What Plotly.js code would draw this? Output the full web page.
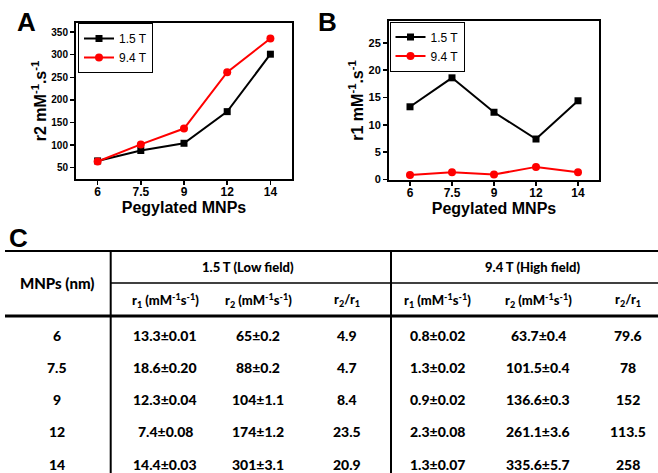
<!DOCTYPE html>
<html>
<head>
<meta charset="utf-8">
<script src="https://cdn.plot.ly/plotly-3.0.1.min.js"></script>
<style>html,body{margin:0;padding:0;background:#fff;}#chart{width:658px;height:473px;}</style>
</head>
<body>
<div id="chart"></div>
<script>
// ---- data ----
const sizes = ["6", "7.5", "9", "12", "14"];
const r1_low = [13.3, 18.6, 12.3, 7.4, 14.4];
const r1_low_err = ["0.01", "0.20", "0.04", "0.08", "0.03"];
const r2_low = [65, 88, 104, 174, 301];
const r2_low_err = ["0.2", "0.2", "1.1", "1.2", "3.1"];
const ratio_low = [4.9, 4.7, 8.4, 23.5, 20.9];
const r1_high = [0.8, 1.3, 0.9, 2.3, 1.3];
const r1_high_err = ["0.02", "0.02", "0.02", "0.08", "0.07"];
const r2_high = [63.7, 101.5, 136.6, 261.1, 335.6];
const r2_high_err = ["0.4", "0.4", "0.3", "3.6", "5.7"];
const ratio_high = [79.6, 78, 152, 113.5, 258];
const yTicksA = [50, 100, 150, 200, 250, 300, 350];
const yTicksB = [0, 5, 10, 15, 20, 25];
const seriesNames = ["1.5 T", "9.4 T"];

// ---- helpers (pixel -> paper) ----
const W = 658, H = 473;
const px = x => x / W;
const py = y => 1 - y / H;

const F = "Liberation Sans, Arial, sans-serif";
const TF = "Lato, Liberation Sans, sans-serif";

const lineBlack = {color: "#000000", width: 2};
const lineRed = {color: "#ff0000", width: 2};
const mkBlack = {symbol: "square", size: 7, color: "#000000"};
const mkRed = {symbol: "circle", size: 8, color: "#ff0000"};

const traces = [
  {x: sizes, y: r2_low, type: "scatter", mode: "lines+markers", name: seriesNames[0],
   line: lineBlack, marker: mkBlack, xaxis: "x", yaxis: "y", legend: "legend"},
  {x: sizes, y: r2_high, type: "scatter", mode: "lines+markers", name: seriesNames[1],
   line: lineRed, marker: mkRed, xaxis: "x", yaxis: "y", legend: "legend"},
  {x: sizes, y: r1_low, type: "scatter", mode: "lines+markers", name: seriesNames[0],
   line: lineBlack, marker: mkBlack, xaxis: "x2", yaxis: "y2", legend: "legend2"},
  {x: sizes, y: r1_high, type: "scatter", mode: "lines+markers", name: seriesNames[1],
   line: lineRed, marker: mkRed, xaxis: "x2", yaxis: "y2", legend: "legend2"}
];

function xax(domain, anchor) {
  return {
    domain: domain, anchor: anchor, type: "category", range: [-0.5, 4.5],
    showline: true, mirror: true, linecolor: "#000", linewidth: 2,
    ticks: "outside", ticklen: 4, tickwidth: 1.5, tickcolor: "#000",
    ticklabelstandoff: -3,
    showgrid: false, zeroline: false,
    tickfont: {family: F, size: 12, color: "#000", weight: "bold"},
    title: {text: "Pegylated MNPs", font: {family: F, size: 16, color: "#000", weight: "bold"}, standoff: 0}
  };
}
function yax(domain, anchor, range, ticks, title, fs) {
  return {
    domain: domain, anchor: anchor, range: range, tickmode: "array", tickvals: ticks,
    showline: true, mirror: true, linecolor: "#000", linewidth: 2,
    ticks: "outside", ticklen: 4, tickwidth: 1.5, tickcolor: "#000",
    showgrid: false, zeroline: false,
    tickfont: {family: F, size: fs, color: "#000", weight: "bold"},
    title: {text: title, font: {family: F, size: 16, color: "#000", weight: "bold"}, standoff: 1}
  };
}

const shapes = [];
const annotations = [];
function hline(y, x0, x1, w) {
  shapes.push({type: "line", xref: "paper", yref: "paper", x0: px(x0), x1: px(x1), y0: py(y), y1: py(y),
    line: {color: "#000", width: w}});
}
function vline(x, y0, y1, w) {
  shapes.push({type: "line", xref: "paper", yref: "paper", x0: px(x), x1: px(x), y0: py(y0), y1: py(y1),
    line: {color: "#000", width: w}});
}
function txt(text, x, y, size, family) {
  annotations.push({text: text, xref: "paper", yref: "paper", x: px(x), y: py(y),
    xanchor: "center", yanchor: "middle", showarrow: false,
    font: {family: family || TF, size: size, color: "#000", weight: 900}});
}

// panel letters
txt("A", 26, 22, 26, F);
txt("B", 327, 22, 26, F);
txt("C", 18, 238, 26, F);

// table rules
hline(251, 5, 658, 2);
hline(283, 110.7, 658, 1.5);
hline(316, 5, 658, 3);
vline(110.7, 251, 473, 2);
vline(391, 251, 473, 2);

// table headers
const colX = [57, 165, 258, 347, 437, 538, 628];
txt("MNPs (nm)", colX[0], 283, 15);
txt("1.5 T (Low field)", 248, 267, 13);
txt("9.4 T (High field)", 532, 267, 13);
const subHead = ["r<sub>1</sub> (mM<sup>-1</sup>s<sup>-1</sup>)", "r<sub>2</sub> (mM<sup>-1</sup>s<sup>-1</sup>)", "r<sub>2</sub>/r<sub>1</sub>"];
for (let g = 0; g < 2; g++) {
  for (let k = 0; k < 3; k++) txt(subHead[k], colX[1 + g * 3 + k], 300, 13);
}
// table body
const rowY = [335, 367, 399, 431, 464];
for (let i = 0; i < sizes.length; i++) {
  const y = rowY[i];
  txt(sizes[i], colX[0], y, 14);
  txt(r1_low[i] + "±" + r1_low_err[i], colX[1], y, 14);
  txt(r2_low[i] + "±" + r2_low_err[i], colX[2], y, 14);
  txt(String(ratio_low[i]), colX[3], y, 14);
  txt(r1_high[i] + "±" + r1_high_err[i], colX[4], y, 14);
  txt(r2_high[i] + "±" + r2_high_err[i], colX[5], y, 14);
  txt(String(ratio_high[i]), colX[6], y, 14);
}

const legendStyle = (x, y) => ({
  x: x, y: y, xanchor: "left", yanchor: "top", xref: "paper", yref: "paper",
  bgcolor: "#fff", bordercolor: "#000", borderwidth: 1,
  font: {family: F, size: 12, color: "#000"}, itemwidth: 30, tracegroupgap: 0,
  traceorder: "normal"
});

const layout = {
  width: W, height: H,
  margin: {l: 0, r: 0, t: 0, b: 0},
  paper_bgcolor: "#fff", plot_bgcolor: "#fff",
  showlegend: true,
  xaxis: xax([px(76), px(292)], "y"),
  yaxis: yax([py(179), py(23)], "x", [25, 370], yTicksA, "r2 mM<sup>-1</sup>.s<sup>-1</sup>", 10),
  xaxis2: xax([px(389), px(599)], "y2"),
  yaxis2: yax([py(180), py(21)], "x2", [-0.1, 29], yTicksB, "r1 mM<sup>-1</sup>.s<sup>-1</sup>", 11),
  legend: legendStyle(px(78), py(23)),
  legend2: legendStyle(px(389.5), py(21.5)),
  shapes: shapes,
  annotations: annotations
};

Plotly.newPlot("chart", traces, layout, {displayModeBar: false, staticPlot: true});
</script>
</body>
</html>
